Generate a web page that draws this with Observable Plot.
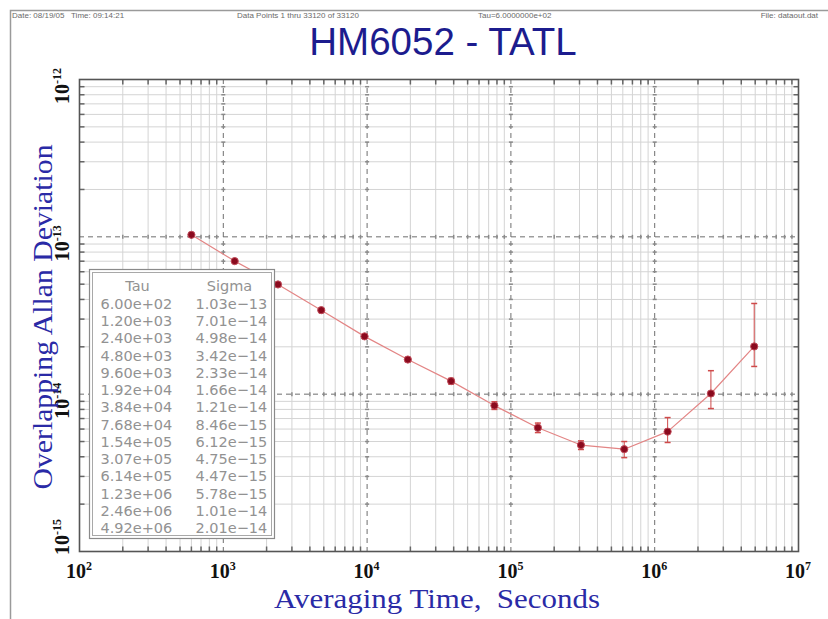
<!DOCTYPE html>
<html>
<head>
<meta charset="utf-8">
<script src="https://cdn.jsdelivr.net/npm/d3@7"></script>
<script src="https://cdn.jsdelivr.net/npm/@observablehq/plot@0.6"></script>
<style>
  html, body { margin: 0; padding: 0; background: #fff; }
  #chart { width: 828px; height: 619px; overflow: hidden; }
</style>
</head>
<body>
<div id="chart"></div>
<script>
// ---------- data ----------
const tau = [600, 1200, 2400, 4800, 9600, 19200, 38400, 76800, 1.54e5, 3.07e5, 6.14e5, 1.23e6, 2.46e6, 4.92e6];
const sigma = [1.03e-13, 7.01e-14, 4.98e-14, 3.42e-14, 2.33e-14, 1.66e-14, 1.21e-14, 8.46e-15, 6.12e-15, 4.75e-15, 4.47e-15, 5.78e-15, 1.01e-14, 2.01e-14];
const sigmaLo = [1.02e-13, 6.93e-14, 4.90e-14, 3.35e-14, 2.27e-14, 1.61e-14, 1.16e-14, 8.0e-15, 5.7e-15, 4.45e-15, 3.95e-15, 4.93e-15, 8.1e-15, 1.50e-14];
const sigmaHi = [1.04e-13, 7.09e-14, 5.06e-14, 3.49e-14, 2.39e-14, 1.71e-14, 1.26e-14, 8.95e-15, 6.55e-15, 5.05e-15, 5.0e-15, 7.1e-15, 1.41e-14, 3.77e-14];
const tauLabels = ["6.00e+02","1.20e+03","2.40e+03","4.80e+03","9.60e+03","1.92e+04","3.84e+04","7.68e+04","1.54e+05","3.07e+05","6.14e+05","1.23e+06","2.46e+06","4.92e+06"];
const sigmaLabels = ["1.03e\u221213","7.01e\u221214","4.98e\u221214","3.42e\u221214","2.33e\u221214","1.66e\u221214","1.21e\u221214","8.46e\u221215","6.12e\u221215","4.75e\u221215","4.47e\u221215","5.78e\u221215","1.01e\u221214","2.01e\u221214"];
const tableHeaders = ["Tau", "Sigma"];
const xDecades = [1e2, 1e3, 1e4, 1e5, 1e6, 1e7];
const xExponents = ["2", "3", "4", "5", "6", "7"];
const yDecades = [1e-15, 1e-14, 1e-13, 1e-12];
const yExponents = ["-15", "-14", "-13", "-12"];
const minorSteps = [2, 3, 4, 5, 6, 7, 8, 9];
const headerTexts = ["Date: 08/19/05   Time: 09:14:21", "Data Points 1 thru 33120 of 33120", "Tau=6.0000000e+02", "File: dataout.dat"];
const titleText = "HM6052 - TATL";
const xTitle = "Averaging Time,  Seconds";
const yTitle = "Overlapping Allan Deviation";

// ---------- derived ----------
const data = tau.map((t, i) => ({tau: t, sigma: sigma[i], lo: sigmaLo[i], hi: sigmaHi[i]}));
const xMinor = xDecades.slice(0, -1).flatMap(d => minorSteps.map(k => d * k));
const yMinor = yDecades.slice(0, -1).flatMap(d => minorSteps.map(k => d * k));
const xInner = xDecades.slice(1, -1);
const yInner = yDecades.slice(1, -1);

const ray = {draw(ctx, size) { const r = Math.sqrt(size / Math.PI); ctx.moveTo(0, 0); ctx.lineTo(r, 0); }};
const bar = {draw(ctx, size) { const r = Math.sqrt(size / Math.PI); ctx.moveTo(-r, 0); ctx.lineTo(r, 0); }};

const serif = "'Liberation Serif', 'Times New Roman', serif";
const gridMinor = "#d4d4d4";
const gridMajor = "#6e6e6e";
const tickCol = "#8a8a8a";
const tblCol = "#929292";
const tblFont = "'DejaVu Sans', sans-serif";

// tick labels drawn through the plot's own scales, with real superscripts
const tickLabels = (index, scales) => {
  const g = d3.create("svg:g").attr("font-family", serif).attr("font-weight", "bold").attr("fill", "#111");
  xDecades.forEach((d, i) => {
    const t = g.append("text").attr("x", scales.x(d)).attr("y", 578).attr("text-anchor", "middle").attr("font-size", 20);
    t.append("tspan").text("10");
    t.append("tspan").attr("font-size", 12).attr("dy", -8).text(xExponents[i]);
  });
  yDecades.forEach((d, i) => {
    const cy = scales.y(d) + (i === 0 ? -14 : 7);
    const t = g.append("text").attr("transform", `translate(69,${cy}) rotate(-90)`).attr("text-anchor", "middle").attr("font-size", 20);
    t.append("tspan").text("10");
    t.append("tspan").attr("font-size", 12).attr("dy", -8).text(yExponents[i]);
  });
  return g.node();
};

const tableBox = () => {
  const g = d3.create("svg:g");
  g.append("rect").attr("x", 89.5).attr("y", 269.5).attr("width", 185).attr("height", 269)
    .attr("fill", "white").attr("stroke", "#8a8a8a").attr("stroke-width", 1.2);
  g.append("rect").attr("x", 92.5).attr("y", 272.5).attr("width", 179).attr("height", 263)
    .attr("fill", "none").attr("stroke", "#a8a8a8").attr("stroke-width", 1);
  return g.node();
};

const plot = Plot.plot({
  width: 828,
  height: 619,
  marginLeft: 79,
  marginRight: 30,
  marginTop: 79,
  marginBottom: 68,
  x: {type: "log", domain: [xDecades[0], xDecades[xDecades.length - 1]], axis: null},
  y: {type: "log", domain: [yDecades[0], yDecades[yDecades.length - 1]], axis: null},
  style: {background: "white", overflow: "visible"},
  marks: [
    // grid
    Plot.ruleX(xMinor, {x: d => d, stroke: gridMinor, strokeWidth: 1}),
    Plot.ruleY(yMinor, {y: d => d, stroke: gridMinor, strokeWidth: 1}),
    Plot.ruleX(xInner, {x: d => d, stroke: gridMajor, strokeWidth: 1, strokeDasharray: "5,4"}),
    Plot.ruleY(yInner, {y: d => d, stroke: gridMajor, strokeWidth: 1, strokeDasharray: "5,4"}),
    // small ticks along major dashed lines
    Plot.dot(d3.cross(xInner, yMinor), {x: d => d[0], y: d => d[1], symbol: bar, r: 2, stroke: tickCol, fill: "none"}),
    Plot.dot(d3.cross(xMinor, yInner), {x: d => d[0], y: d => d[1], symbol: bar, rotate: 90, r: 2, stroke: tickCol, fill: "none"}),
    // edge ticks (inward)
    Plot.dot(yMinor, {y: d => d, frameAnchor: "left", symbol: ray, r: 5, stroke: "#666", fill: "none"}),
    Plot.dot(yMinor, {y: d => d, frameAnchor: "right", symbol: ray, rotate: 180, r: 5, stroke: "#666", fill: "none"}),
    Plot.dot(xMinor, {x: d => d, frameAnchor: "bottom", symbol: ray, rotate: -90, r: 5, stroke: "#666", fill: "none"}),
    Plot.dot(xMinor, {x: d => d, frameAnchor: "top", symbol: ray, rotate: 90, r: 5, stroke: "#666", fill: "none"}),
    Plot.frame({stroke: "#555", strokeWidth: 1.6}),
    // series
    Plot.line(data, {x: "tau", y: "sigma", stroke: "#e38585", strokeWidth: 1.2}),
    Plot.ruleX(data, {x: "tau", y1: "lo", y2: "hi", stroke: "#cf4a4a", strokeWidth: 1}),
    Plot.dot(data, {x: "tau", y: "lo", symbol: bar, r: 3, stroke: "#cf4a4a", fill: "none"}),
    Plot.dot(data, {x: "tau", y: "hi", symbol: bar, r: 3, stroke: "#cf4a4a", fill: "none"}),
    Plot.dot(data, {x: "tau", y: "sigma", r: 3.6, fill: "#8a0a1e", stroke: "#c04a58", strokeWidth: 1}),
    // table
    tableBox,
    Plot.text([tableHeaders[0]], {frameAnchor: "top-left", text: d => d, dx: 58, dy: 201, textAnchor: "middle", fontSize: 14.5, fontFamily: tblFont, fill: tblCol}),
    Plot.text([tableHeaders[1]], {frameAnchor: "top-left", text: d => d, dx: 150, dy: 201, textAnchor: "middle", fontSize: 14.5, fontFamily: tblFont, fill: tblCol}),
    Plot.text([tauLabels.join("\n")], {frameAnchor: "top-left", text: d => d, dx: 21, dy: 336, textAnchor: "start", lineAnchor: "middle", lineHeight: 1.19, fontSize: 14.5, fontFamily: tblFont, fill: tblCol}),
    Plot.text([sigmaLabels.join("\n")], {frameAnchor: "top-left", text: d => d, dx: 116, dy: 336, textAnchor: "start", lineAnchor: "middle", lineHeight: 1.19, fontSize: 14.5, fontFamily: tblFont, fill: tblCol}),
    // axis tick labels
    tickLabels
  ]
});

document.getElementById("chart").appendChild(plot);

// ---------- annotations ----------
const svg = d3.select(plot);
svg.insert("rect", ":first-child")
  .attr("x", 10.5).attr("y", 10.5).attr("width", 840).attr("height", 640)
  .attr("fill", "none").attr("stroke", "#9a9a9a").attr("stroke-width", 1.5);

const headerX = [12, 237, 478, 818];
const headerAnchor = ["start", "start", "start", "end"];
headerTexts.forEach((t, i) => {
  svg.append("text").attr("x", headerX[i]).attr("y", 17.5)
    .attr("text-anchor", headerAnchor[i])
    .attr("font-family", "'Liberation Sans', Arial, sans-serif")
    .attr("font-size", 8).attr("fill", "#6a6a6a")
    .style("white-space", "pre").text(t);
});

svg.append("text").attr("x", 443).attr("y", 55)
  .attr("text-anchor", "middle")
  .attr("font-family", "'Liberation Sans', Arial, sans-serif")
  .attr("font-size", 38.5).attr("fill", "#1c1c8e").text(titleText);

svg.append("text").attr("x", 437).attr("y", 608)
  .attr("text-anchor", "middle")
  .attr("font-family", serif)
  .attr("font-size", 27).attr("fill", "#2a2aa6")
  .attr("textLength", 326).attr("lengthAdjust", "spacingAndGlyphs")
  .style("white-space", "pre").text(xTitle);

svg.append("text")
  .attr("transform", "translate(52,317) rotate(-90)")
  .attr("text-anchor", "middle")
  .attr("font-family", serif)
  .attr("font-size", 28).attr("fill", "#2a2aa6")
  .attr("textLength", 345).attr("lengthAdjust", "spacingAndGlyphs")
  .text(yTitle);
</script>
</body>
</html>
